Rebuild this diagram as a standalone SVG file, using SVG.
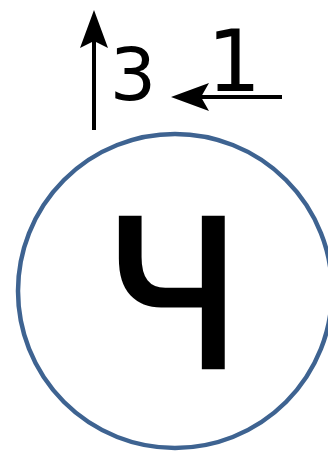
<svg xmlns="http://www.w3.org/2000/svg" width="328" height="451" viewBox="0 0 328 451">
<style>
.t{font-family:"DejaVu Sans","Liberation Sans",sans-serif;fill:#000}
.ln{stroke:#000;stroke-width:4;fill:none}
.hd{fill:#000;stroke:none}
</style>
<rect width="328" height="451" fill="#fff"/>
<g id="node-ch">
<circle cx="175" cy="291" r="157" fill="#fff" stroke="#3e6391" stroke-width="4.5"/>
<text class="t" x="173" y="368" font-size="206" text-anchor="middle" stroke="#000" stroke-width="2.5">Ч</text>
</g>
<g id="connectors">
<line class="ln" x1="94" y1="130" x2="94" y2="38"/>
<path class="hd" d="M94,10 L108,48 L94,41 L80,48 Z"/>
<line class="ln" x1="282" y1="97" x2="198" y2="97"/>
<path class="hd" d="M171,97 L209,83 L201,97 L209,111 Z"/>
</g>
<g id="labels">
<text class="t" x="133" y="100" font-size="73" text-anchor="middle">3</text>
<text class="t" x="234" y="91" font-size="85" text-anchor="middle">1</text>
</g>
</svg>
